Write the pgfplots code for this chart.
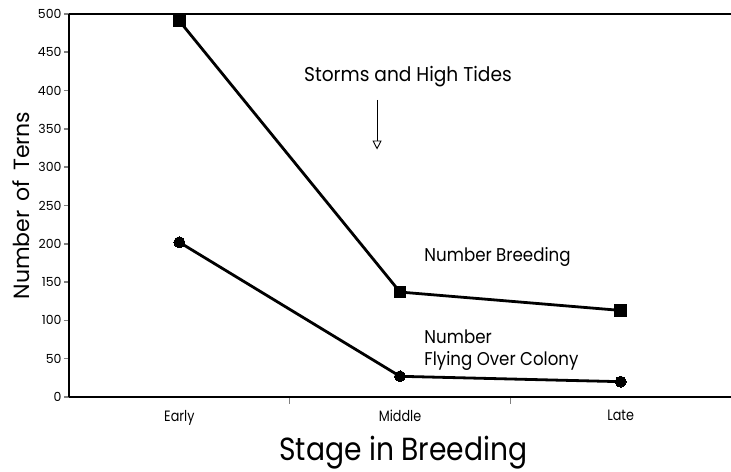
\documentclass[border=0pt]{standalone}
\usepackage{fontspec}
\setmainfont{Poppins}
\usepackage{pgfplots}
\pgfplotsset{compat=1.18}
\usetikzlibrary{arrows.meta}
\begin{document}
\begin{tikzpicture}
\begin{axis}[name=a,
  scale only axis, width=662pt, height=383pt,
  xmin=-0.5, xmax=2.5, ymin=0, ymax=500,
  axis x line*=bottom, axis y line*=left,
  axis line style={line width=2.2pt},
  xtick={0,1,2},
  xticklabels={\scalebox{0.85}[1]{Early},\scalebox{0.85}[1]{Middle},\scalebox{0.85}[1]{Late}},
  minor xtick={0.5,1.5},
  major x tick style={draw=none},
  minor x tick style={line width=1.6pt},
  minor tick length=7pt,
  ytick={0,50,...,500},
  y tick style={line width=1.6pt},
  major tick length=5pt,
  tick align=outside,
  /pgf/number format/assume math mode=true,
  x tick label style={font=\fontsize{15}{17}\selectfont, yshift=-5pt},
  y tick label style={font=\fontsize{12.5}{14}\selectfont, xshift=1pt},
  xlabel={\scalebox{0.88}[1]{Stage in Breeding}},
  ylabel={Number\hspace{0.15em} of\hspace{0.15em} Terns},
  xlabel style={font=\fontsize{32}{34}\selectfont, at={(axis description cs:0.505,-0.146)}, anchor=center},
  ylabel style={font=\fontsize{22}{24}\selectfont, at={(axis description cs:-0.072,0.5)}, anchor=center},
  clip=false,
]
\addplot[line width=2.8pt, mark=square*, mark size=5.8pt, mark options={line width=0pt}] coordinates {(0,491) (1,137) (2,113)};
\addplot[line width=2.8pt, mark=*, mark size=5.5pt, mark options={line width=0pt}] coordinates {(0,202) (1,27) (2,20)};
\draw[line width=2.2pt] (rel axis cs:0,1) -- (rel axis cs:1,1);
\node[font=\fontsize{20}{22}\selectfont] at (axis cs:1.036,418) {\scalebox{0.93}[1]{Storms and High Tides}};
\draw[line width=0.9pt, -{Triangle[open, length=9pt, width=9pt]}] (axis cs:0.896,388) -- (axis cs:0.896,323);
\node[font=\fontsize{18.5}{22}\selectfont, anchor=west] at (axis cs:1.095,183) {\scalebox{0.9}[1]{Number Breeding}};
\node[font=\fontsize{18.5}{22}\selectfont, anchor=west, align=left] at (axis cs:1.095,61) {\scalebox{0.9}[1]{Number}\\\scalebox{0.9}[1]{Flying Over Colony}};
\end{axis}
\pgfresetboundingbox
\path (a.south west)+(-69pt,-75pt) coordinate (bl);
\path (a.north east)+(0pt,14pt) coordinate (tr);
\path[use as bounding box] (bl) rectangle (tr);
\end{tikzpicture}
\end{document}
